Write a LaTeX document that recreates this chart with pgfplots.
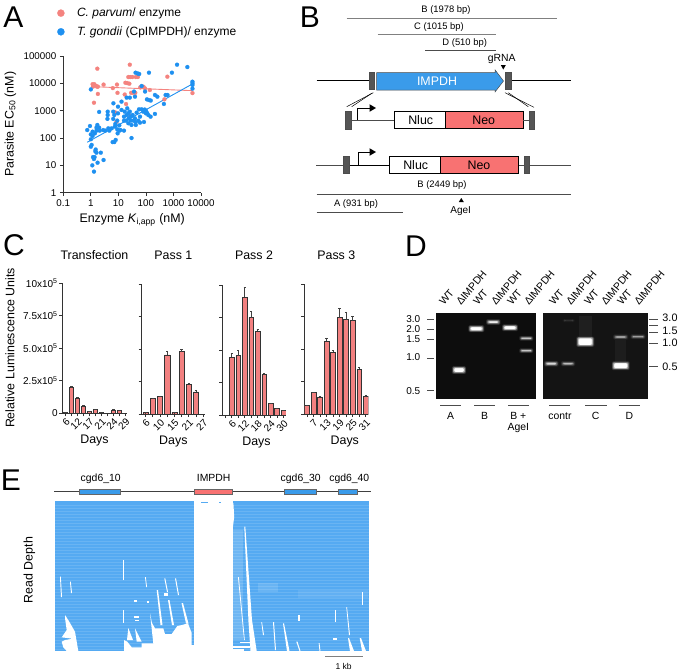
\documentclass[border=0pt]{standalone}
\usepackage{fontspec}
\setmainfont{Liberation Sans}
\usepackage{pgfplots}
\pgfplotsset{compat=1.18}

\definecolor{ptred}{HTML}{F4837F}
\definecolor{ptblue}{HTML}{1E90F0}
\definecolor{barred}{HTML}{F28080}
\definecolor{neored}{HTML}{F87272}
\definecolor{arrowblue}{HTML}{3A9BEA}
\definecolor{readblue}{HTML}{55AAF2}
\definecolor{darkbox}{HTML}{555555}
\definecolor{axisgrey}{HTML}{333333}

\newcommand{\fs}[1]{\fontsize{#1bp}{#1bp}\selectfont}
% shapes of the schematics, all in pixel coordinates of the master axis
\newcommand{\poly}[2][]{\addplot[draw=none,fill=black,forget plot,#1] coordinates {#2} --cycle;}
\newcommand{\seg}[2][]{\addplot[black,line width=0.7bp,forget plot,#1] coordinates {#2};}
\newcommand{\rect}[5][]{\poly[#1]{(#2,#3)(#4,#3)(#4,#5)(#2,#5)}}
\newcommand{\lbl}[4][]{\node[#1] at (axis cs:#2,#3) {#4};}
\newcommand{\gap}[1]{\poly[fill=white]{#1}}
% gel band: centre x, centre y, width, height, brightness
\newcommand{\layer}[7]{%
  \pgfmathsetmacro{\xa}{#1-#3/2-#5}\pgfmathsetmacro{\xb}{#1+#3/2+#5}%
  \pgfmathsetmacro{\ya}{#2-#4/2-#6}\pgfmathsetmacro{\yb}{#2+#4/2+#6}%
  \rect[fill=white,fill opacity={#7},rounded corners=1.2bp]{\xa}{\ya}{\xb}{\yb}%
}
\newcommand{\band}[5]{%
  \layer{#1}{#2}{#3}{#4}{1.6}{1.5}{0.12*#5}%
  \layer{#1}{#2}{#3}{#4}{1}{0.9}{0.22*#5}%
  \layer{#1}{#2}{#3}{#4}{0.4}{0.35}{0.4*#5}%
  \layer{#1}{#2}{#3}{#4}{-0.4}{-0.3}{0.6*#5}%
  \layer{#1}{#2}{#3}{#4}{-1}{-0.6}{#5}%
}

\pgfplotsset{
  panelC/.style={
    scale only axis, height=130bp, ymin=0, ymax=10,
    ybar, bar width=4.8bp,
    axis lines=left, axis line style={-,color=axisgrey,line width=1bp},
    tick align=outside, tick pos=left, major tick length=3bp,
    tick style={color=axisgrey,line width=0.8bp},
    ytick={0,2.5,5,7.5,10},
    xticklabel style={rotate=45,anchor=north east,inner sep=1bp,font=\fs{10}},
    title style={anchor=center,at={(axis description cs:0.5,1)},yshift=22.6bp,font=\fs{12.4}},
    xlabel style={anchor=center,at={(axis description cs:0.5,0)},yshift=-27.7bp,font=\fs{12.4}},
    xlabel={Days},
  },
  barstyle/.style={fill=barred,draw=black!80,line width=0.6bp,
    error bars/.cd, y dir=plus, y explicit,
    error bar style={black!75,line width=0.6bp},
    error mark options={rotate=90,mark size=1.2bp,black!75,line width=0.6bp}},
}

\begin{document}
\begin{tikzpicture}[font=\fs{9.4}]
\useasboundingbox (0,0) rectangle (680bp,-671bp);

% ---- master axis in image pixels, for the schematics and gels
\begin{axis}[at={(0,0)},anchor=north west,scale only axis,width=680bp,height=671bp,
  xmin=0,xmax=680,ymin=0,ymax=671,y dir=reverse,hide axis,clip=false]

% panel letters
\lbl{13.3}{17.5}{\fs{30}A}
\lbl{310}{17}{\fs{30}B}
\lbl{14}{245}{\fs{30}C}
\lbl{416}{246}{\fs{30}D}
\lbl{11}{480}{\fs{30}E}

% ---- B
\lbl{446}{10}{B (1978 bp)}
\seg[color=gray,line width=1.1bp]{(346.7,18.7)(556.7,18.7)}
\lbl{439}{26.7}{C (1015 bp)}
\seg[color=gray,line width=1.1bp]{(377.7,34.3)(495.7,34.3)}
\lbl{464.7}{42.7}{D (510 bp)}
\seg[color=black!70]{(425,50.7)(495.7,50.7)}
\lbl{501.7}{58.7}{\fs{10.4}gRNA}
\poly{(500.8,65)(505.8,65)(503.3,69.5)}
\seg{(316.7,80.3)(369.3,80.3)}
\seg{(511,80.3)(570.7,80.3)}
\rect[fill=darkbox,draw=black!70,line width=0.4bp]{369.3}{72}{374.3}{89.3}
\rect[fill=darkbox,draw=black!70,line width=0.4bp]{505.3}{72}{510.7}{89.3}
\poly[fill=arrowblue,draw=black!70,line width=0.5bp]{(376.7,72.7)(495,72.7)(495,69.8)(503.5,81)(495,92)(495,90)(376.7,90)}
\lbl[text=white]{437}{81}{\fs{12.4}IMPDH}
\seg[line width=0.5bp]{(373.3,92.7)(346.7,106.7)}
\seg[line width=0.5bp]{(371.7,93.3)(351.7,106.7)}
\seg[line width=0.5bp]{(505,92.7)(534,107.3)}
\seg[line width=0.5bp]{(508.3,92.7)(528.3,106.7)}

\seg[color=black!70]{(351,120)(394.3,120)}
\rect[fill=darkbox,draw=black!70,line width=0.4bp]{345.3}{111.3}{351.3}{128.7}
\seg[line width=0.8bp]{(357.7,120)(357.7,108)(370,108)}
\poly{(369.5,104.2)(376,108)(369.5,111.8)}
\rect[fill=white,draw=black,line width=0.6bp]{394.3}{111.3}{445.3}{128.7}
\rect[fill=neored,draw=black,line width=0.6bp]{445.3}{111.3}{523.3}{128.7}
\lbl{420.7}{120}{\fs{12.4}Nluc}
\lbl{483.7}{120}{\fs{12.4}Neo}
\seg[color=black!70]{(523.3,120)(529,120)}
\rect[fill=darkbox,draw=black!70,line width=0.4bp]{529}{111.3}{534.3}{128.7}

\seg[color=black!70]{(316,165)(343.3,165)}
\seg[line width=1bp]{(348.7,165)(389.3,165)}
\rect[fill=darkbox,draw=black!70,line width=0.4bp]{343.3}{156}{348.7}{173.3}
\seg[line width=0.8bp]{(358,165)(358,152)(370,152)}
\poly{(369.5,148.2)(376,152)(369.5,155.8)}
\rect[fill=white,draw=black,line width=0.6bp]{389.3}{156}{440.7}{173.3}
\rect[fill=neored,draw=black,line width=0.6bp]{440.7}{156}{518.7}{173.3}
\lbl{415.7}{165}{\fs{12.4}Nluc}
\lbl{479}{165}{\fs{12.4}Neo}
\seg[color=black!70]{(518.7,165)(524,165)}
\rect[fill=darkbox,draw=black!70,line width=0.4bp]{524}{156}{529.3}{173.3}
\seg[color=black!70]{(529.3,165)(570.7,165)}

\lbl{442}{185.3}{B (2449 bp)}
\seg[color=black!70]{(316.7,194)(570.7,194)}
\lbl{356}{204.3}{A (931 bp)}
\seg[color=black!70]{(316.7,212.3)(403.3,212.3)}
\poly{(458.8,202)(463.8,202)(461.3,198)}
\lbl{460.7}{210.7}{\fs{10}AgeI}

% ---- D
\rect[fill=black!95]{436}{312.7}{536}{399}
\rect[fill=black!92]{542.7}{312.7}{647.7}{399}
\rect[fill=white,fill opacity=0.05]{579}{316}{592}{340}
\rect[fill=white,fill opacity=0.04]{615}{340}{626}{362}
\band{459}{370}{11}{4.7}{1}
\band{476.3}{328.7}{12.7}{4}{1}
\band{493.3}{322}{11.3}{2.7}{0.75}
\band{510}{327.7}{12.7}{3.7}{1}
\band{526.3}{338.3}{11}{2}{0.6}
\band{526.3}{350.7}{11}{2}{0.6}
\band{551.3}{363.7}{11.3}{2.7}{0.6}
\band{568}{363.7}{11.3}{2.3}{0.45}
\band{568.7}{320.5}{10}{1}{0.1}
\band{585.3}{341.7}{14.7}{7.3}{1}
\band{620.7}{337}{12}{2.3}{0.4}
\band{620.7}{365.7}{14.7}{5.7}{1}
\band{638}{336.7}{12}{2}{0.4}

\lbl[rotate=50,anchor=west]{439}{306}{\fs{10.5}WT}
\lbl[rotate=50,anchor=west]{456}{306}{\fs{10.5}ΔIMPDH}
\lbl[rotate=50,anchor=west]{473}{306}{\fs{10.5}WT}
\lbl[rotate=50,anchor=west]{491}{306}{\fs{10.5}ΔIMPDH}
\lbl[rotate=50,anchor=west]{507}{306}{\fs{10.5}WT}
\lbl[rotate=50,anchor=west]{524}{306}{\fs{10.5}ΔIMPDH}
\lbl[rotate=50,anchor=west]{549}{306}{\fs{10.5}WT}
\lbl[rotate=50,anchor=west]{566}{306}{\fs{10.5}ΔIMPDH}
\lbl[rotate=50,anchor=west]{584}{306}{\fs{10.5}WT}
\lbl[rotate=50,anchor=west]{601}{306}{\fs{10.5}ΔIMPDH}
\lbl[rotate=50,anchor=west]{617}{306}{\fs{10.5}WT}
\lbl[rotate=50,anchor=west]{634}{306}{\fs{10.5}ΔIMPDH}

\lbl{413.3}{318.7}{\fs{10}3.0}
\lbl{413.3}{329.3}{\fs{10}2.0}
\lbl{413.3}{338.7}{\fs{10}1.5}
\lbl{413.3}{357.3}{\fs{10}1.0}
\lbl{413.3}{390.7}{\fs{10}0.5}
\seg[color=black!70]{(427.3,319.7)(434.3,319.7)}
\seg[color=black!70]{(427.3,329.7)(434.3,329.7)}
\seg[color=black!70]{(427.3,339)(434.3,339)}
\seg[color=black!70]{(427.3,358)(434.3,358)}
\seg[color=black!70]{(427.3,390.7)(434.3,390.7)}
\lbl{670}{317.3}{\fs{10.8}3.0}
\lbl{670}{330.7}{\fs{10.8}1.5}
\lbl{670}{342.7}{\fs{10.8}1.0}
\lbl{670}{366.3}{\fs{10.8}0.5}
\seg[color=black!70]{(649.3,319)(657.7,319)}
\seg[color=black!70]{(649.3,325)(657.7,325)}
\seg[color=black!70]{(649.3,332.3)(657.7,332.3)}
\seg[color=black!70]{(649.3,343.3)(657.7,343.3)}
\seg[color=black!70]{(649.3,366.3)(657.7,366.3)}

\seg[color=black!70]{(440,405)(461.3,405)}
\seg[color=black!70]{(474,405)(495.3,405)}
\seg[color=black!70]{(508,405)(529.3,405)}
\seg[color=black!70]{(549,405)(570.3,405)}
\seg[color=black!70]{(585,405)(606.7,405)}
\seg[color=black!70]{(618.7,405)(640,405)}
\lbl{450.7}{415.7}{\fs{10.4}A}
\lbl{484.7}{415.7}{\fs{10.4}B}
\lbl{518.3}{415.7}{\fs{10.4}B +}
\lbl{518.3}{428.3}{\fs{10.4}AgeI}
\lbl{560}{415.7}{\fs{10.4}contr}
\lbl{595.7}{415.7}{\fs{10.4}C}
\lbl{629.3}{415.7}{\fs{10.4}D}

% ---- E
\lbl{100.7}{478.3}{\fs{10.4}cgd6\_10}
\lbl{213.7}{478.3}{\fs{10.4}IMPDH}
\lbl{300.7}{478.3}{\fs{10.4}cgd6\_30}
\lbl{349.3}{478.3}{\fs{10.4}cgd6\_40}
\seg[color=black!75,line width=0.6bp]{(54.3,491.7)(371,491.7)}
\rect[fill=arrowblue,draw=black!60,line width=0.4bp]{79.3}{488.7}{119.7}{494.3}
\rect[fill=neored,draw=black!60,line width=0.4bp]{194.3}{488.7}{232.3}{494.3}
\rect[fill=arrowblue,draw=black!60,line width=0.4bp]{284.3}{488.7}{316.3}{494.3}
\rect[fill=arrowblue,draw=black!60,line width=0.4bp]{338.3}{488.7}{356.7}{494.3}

\rect[fill=readblue]{54.5}{501.3}{194}{650.7}
\rect[fill=readblue]{232.5}{501.3}{369.3}{650.7}
\rect[fill=readblue]{201}{501.5}{208}{502.8}
\rect[fill=readblue]{218.5}{501.5}{220.5}{502.5}
% read rows
\pgfplotsinvokeforeach{505,508,...,650}{%
  \seg[color=white,opacity=0.12,line width=0.5bp]{(54.5,#1)(194,#1)}
  \seg[color=white,opacity=0.12,line width=0.5bp]{(232.5,#1)(369.3,#1)}
}
% paler stretches
\rect[fill=white,fill opacity=0.15]{233}{530}{243}{640}
\rect[fill=white,fill opacity=0.12]{258}{582.7}{278}{592}
\rect[fill=white,fill opacity=0.08]{298}{590}{368}{598}
% gaps in the coverage, left block
\gap{(65,615)(69.3,621.7)(75,631.7)(78.3,651)(66.7,651)(63.3,647.3)(61.7,641.7)(65,640)(72.7,638.7)(61.7,637.3)(66.7,630)(65,618)}
\gap{(124,651)(124,640)(127.3,641.7)(131.7,647.3)(141.7,647.3)(141.7,643.3)(153.3,643.3)(150,613.3)(152,623)(155,628.3)(163.3,628.3)(165,634)(171.7,634)(177.3,626)(182,625)(188,623.3)(191.7,633)(191.7,645)(194,645)(194,651)}
\gap{(135,628.3)(141.7,641.7)(136.7,641.7)}
\gap{(128.3,628)(133,640)(127,640)}
\gap{(156.7,590)(158,590)(162.5,625)(160.5,625)}
\gap{(168,600)(169.5,600)(174,625)(172,625)}
\gap{(181.5,603)(183,603)(188.5,623.5)(186,623.5)}
\gap{(164.3,578.3)(165.3,578.3)(168,592)(167,592)}
\gap{(175,578.3)(176,578.3)(179,595)(178,595)}
\gap{(145,577)(145.8,577)(147,587)(146.2,587)}
\gap{(60,576.7)(60.8,576.7)(62,597)(61,597)}
\gap{(70,581.7)(70.8,581.7)(72,593)(71,593)}
\rect[fill=white]{134}{600}{136.5}{602}
\rect[fill=white]{164}{593}{168}{596}
\rect[fill=white]{147}{601}{149}{603}
\rect[fill=white]{122.8}{560}{123.6}{580}
\rect[fill=white]{122.8}{610}{123.6}{623}
\rect[fill=white]{134}{616}{139}{618}
\rect[fill=white]{135}{620}{139}{621}
% right block
\gap{(232.5,503)(233.4,503)(234.2,517)(232.5,530)}
\gap{(244.3,526.7)(245.3,526.7)(252,620)(256.7,651)(250.5,651)(248.5,622)}
\gap{(238,577)(238.8,577)(244.8,640)(244,640)}
\gap{(261.3,622)(262,622)(264,635)(263,635)}
\gap{(273,622)(274,622)(276,650)(275,650)}
\gap{(283,623.3)(284,623.3)(289.5,651)(287,651)}
\gap{(296.3,641.7)(297.5,641.7)(300.5,651)(299.5,651)}
\gap{(318.7,643)(319.5,643)(320.5,651)(319.5,651)}
\gap{(348,638)(349,638)(354,651)(350,651)}
\gap{(359.7,638)(361,638)(366,651)(362,651)}
\gap{(346.3,607)(347,607)(350,635)(349,635)}
\rect[fill=white]{361.8}{592}{363.2}{605}
\rect[fill=white]{335}{610}{336}{622}
\rect[fill=white]{298}{615}{299.5}{621}
\rect[fill=white]{233}{646}{250}{647.5}
\rect[fill=white]{240}{642}{250}{643}
\rect[fill=white]{233}{649.3}{244}{651}
\rect[fill=white]{333}{638}{337}{640}
\seg[color=gray,line width=0.8bp]{(325,656)(362.7,656)}
\lbl{343.7}{666}{\fs{8.5}1 kb}
\lbl[rotate=90]{29.3}{570}{\fs{12.4}Read Depth}
\lbl[rotate=90]{10}{348}{\fs{12.4}Relative Luminescence Units}
\end{axis}

% ---- A
\begin{axis}[at={(63.3bp,-56bp)},anchor=north west,scale only axis,
  width=137.7bp,height=136.7bp,
  xmode=log,ymode=log,log basis x=10,log basis y=10,
  xmin=0.1,xmax=10000,ymin=1,ymax=100000,clip=false,
  axis lines=left,axis line style={-,color=axisgrey,line width=1bp},
  tick align=outside,tick pos=left,major tick length=3.5bp,minor tick length=1.8bp,
  tick style={color=axisgrey,line width=0.8bp},
  xtick={0.1,1,10,100,1000,10000},xticklabels={0.1,1,10,100,1000,10000},
  ytick={1,10,100,1000,10000,100000},yticklabels={1,10,100,1000,10000,100000},
  xminorticks=true,yminorticks=true,
  ticklabel style={font=\fs{9.8}},
  xlabel={Enzyme \textit{K}\textsubscript{i,app} (nM)},ylabel={Parasite EC\textsubscript{50} (nM)},
  xlabel style={font=\fs{12.4},anchor=center,at={(axis description cs:0.5,0)},yshift=-27bp},
  ylabel style={font=\fs{12.4},anchor=center,at={(axis description cs:0,0.5)},yshift=53bp},
  legend style={draw=none,fill=none,at={(-0.045,1.367)},anchor=north west,
    cells={anchor=west},font=\fs{12},row sep=4.5bp,inner sep=0pt},
  legend image code/.code={\path[#1,mark size=3.6bp] plot coordinates {(0.10cm,0)};\path[draw=none] (0,0) -- (0.6cm,0);},
]
\addplot[only marks,mark=*,mark size=2bp,color=ptred,mark options={draw=ptred,fill=ptred,line width=0.2bp}] coordinates {
(1.72,34400)(26,48000)(1.16,9300)(1.33,9300)(1.5,8200)(1.7,7500)(1.2,7600)(1.8,7600)(2.9,9000)
(1.8,4100)(1.3,1950)(6.3,6700)(8.9,9000)(9.3,4500)(18,10500)(21,10200)(25,9700)(17,3900)(19,1750)
(7.6,870)(8.5,390)(23,17000)(27,17000)(32,17000)(43,17000)(51,17000)(29,4500)(34,4500)(41,4500)
(27,650)(62,7100)(82,7500)(139,5700)(600,17500)(470,2600)(4900,4400)(93,6500)
};
\addplot[only marks,mark=*,mark size=2bp,color=ptblue,mark options={draw=ptblue,fill=ptblue,line width=0.2bp}] coordinates {
(1350,48000)(3190,39500)(880,24500)(129,24500)(42,24500)(50,23000)(57,22000)(1.0,6000)
(4900,11500)(4900,10000)(4900,8700)(4900,6400)
(70,8000)(93,5000)(37,5000)(20,3000)(26,3000)(40,3250)(109,2600)(129,2450)(150,2340)(213,3750)(260,3250)
(450,1760)(520,3750)(610,3750)(6.6,1860)(13,2140)(2.0,900)(4.1,920)(4.1,695)(4,500)(6.5,920)(7.1,695)(6.5,500)
(9.7,1400)(9.7,800)(13,1060)(17,920)(21,1220)(23,800)(26,920)(61,604)(100,1000)(90,1100)(110,830)
(16,604)(20,695)(23.6,525)(28,604)(33,695)(40,525)(46,850)(56,1120)(70,1120)(80,920)(100,800)(122,695)(148,604)(213,760)
(19,432)(23,346)(28,432)(35,432)(42,386)(53,432)(61,364)(85,386)(30,300)(43,300)(9.1,432)(7.7,325)(10.8,290)(16,432)
(7.5,260)(5.7,226)(9.1,208)(10.8,186)(16,186)(4.3,226)(4.7,186)(3.35,186)(2.8,196)(2.1,186)(1.6,186)(1.4,148)(1.16,119)
(1.0,136)(0.93,275)(0.74,196)(1.16,171)(1.72,300)(1.6,240)(2.0,240)(6.2,71)(7.1,71)(8,85)(9.4,148)(12,196)(30,100)(1.0,90)
(1.07,56)(1.0,48)(1.5,38)(1.6,29)(2.3,29)(1.2,20)(1.37,20)(1.76,12.5)(1.13,10)(1.3,5.9)(2.9,15.7)(1.45,33)(1.3,17)
};
\addplot[color=ptred,line width=0.9bp,forget plot] coordinates {(1.16,7570)(4900,5400)};
\addplot[color=ptblue,line width=0.9bp,forget plot] coordinates {(0.74,70)(4900,9500)};
\legend{\textit{C. parvum}/ enzyme,\textit{T. gondii} (CpIMPDH)/ enzyme}
\end{axis}

% ---- C
\begin{axis}[panelC,at={(62.3bp,-283.3bp)},anchor=north west,width=64.3bp,
  xmin=-0.56,xmax=10.2,title={Transfection},bar width=4.2bp,
  yticklabels={0,2.5x10\textsuperscript{5},5.0x10\textsuperscript{5},7.5x10\textsuperscript{5},10x10\textsuperscript{5}},
  yticklabel style={font=\fs{10},inner sep=1.5bp},
  xtick={0,...,10},xticklabels={6,,12,,17,,21,,24,,29}]
\addplot[barstyle] coordinates {
(0,0.08)+-(0,0) (1,2.0)+-(0,0.06) (2,1.15)+-(0,0.05) (3,0.55)+-(0,0.03) (4,0.15)+-(0,0.02)
(5,0.28)+-(0,0.03) (6,0.08)+-(0,0.01) (8,0.25)+-(0,0.02) (9,0.2)+-(0,0.02)};
\end{axis}

\begin{axis}[panelC,at={(141.7bp,-284bp)},anchor=north west,width=63.3bp,
  xmin=-0.556,xmax=8.24,title={Pass 1},yticklabels={},bar width=5.2bp,
  xtick={0,...,8},xticklabels={6,,10,,15,,21,,27}]
\addplot[barstyle] coordinates {
(0,0.1)+-(0,0.01) (1,1.2)+-(0,0.02) (2,1.35)+-(0,0.05) (3,4.55)+-(0,0.25) (4,0.1)+-(0,0.01)
(5,4.8)+-(0,0.2) (6,2.25)+-(0,0.12) (7,1.7)+-(0,0.15)};
\end{axis}

\begin{axis}[panelC,at={(222bp,-285bp)},anchor=north west,width=64bp,
  xmin=-0.51,xmax=9.36,title={Pass 2},yticklabels={},
  title style={yshift=1.2bp},xlabel style={xshift=2.5bp},
  xtick={0,...,9},xticklabels={,6,,12,,18,,24,,30}]
\addplot[barstyle] coordinates {
(1,4.44)+-(0,0.3) (2,4.56)+-(0,0.38) (3,9.07)+-(0,0.74) (4,7.49)+-(0,0.5) (5,6.46)+-(0,0.1)
(6,3.13)+-(0,0.05) (7,0.87)+-(0,0.02) (8,0.49)+-(0,0.02) (9,0.33)+-(0,0.02)};
\end{axis}

\begin{axis}[panelC,at={(304.3bp,-284bp)},anchor=north west,width=64bp,
  xmin=-0.41,xmax=9.39,title={Pass 3},yticklabels={},
  xlabel style={xshift=8.5bp},
  xtick={0,...,9},xticklabels={,7,,13,,19,,25,,31}]
\addplot[barstyle] coordinates {
(0,0.67)+-(0,0.02) (1,1.64)+-(0,0.04) (2,1.31)+-(0,0.04) (3,5.6)+-(0,0.25) (4,4.74)+-(0,0.15)
(5,7.41)+-(0,0.72) (6,7.26)+-(0,0.6) (7,7.18)+-(0,0.35) (8,3.44)+-(0,0.15) (9,1.38)+-(0,0.03)};
\end{axis}
\end{tikzpicture}
\end{document}
